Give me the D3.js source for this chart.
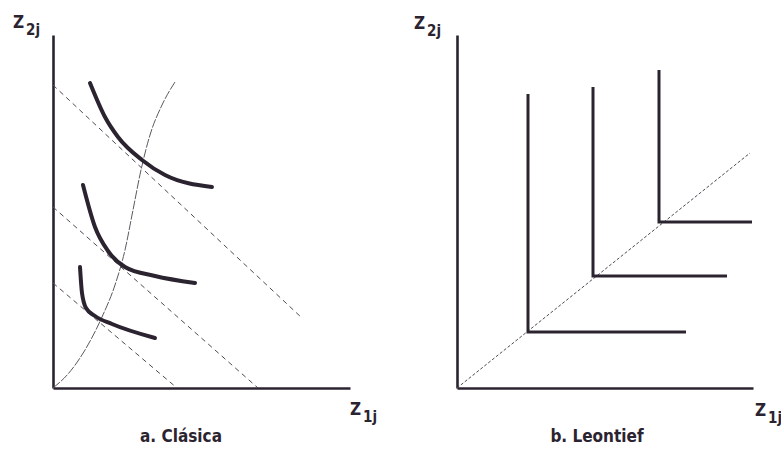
<!DOCTYPE html>
<html>
<head>
<meta charset="utf-8">
<script src="https://cdn.jsdelivr.net/npm/d3@7"></script>
<style>
  body { margin: 0; background: #fff; }
  svg { display: block; }
  .lbl { font-family: "Liberation Sans Narrow", "DejaVu Sans Condensed", "Liberation Sans", sans-serif; font-weight: bold; fill: #2b2430; }
</style>
</head>
<body>
<div id="chart"></div>
<script>
// panel a: values are in the panel's own units, measured from the origin
var budgetLines = [
    [[0, 303], [249, 70]],
    [[0, 181], [205, 0]],
    [[0, 105], [124, 0]]
];
var expansionPath = [[0, 0], [15, 14], [32, 38], [49, 71], [62, 103], [72, 138],
    [80, 178], [88, 218], [97, 253], [109, 283], [122, 306]];
var isoquants = [
    [[37, 305], [52, 271], [65, 251], [89, 228], [112, 213], [159, 201]],
    [[30, 203], [42, 161], [55, 137], [72, 121], [102, 112], [142, 105]],
    [[27, 121], [29, 95], [33, 80], [42, 72], [59, 64], [102, 50]]
];

// panel b: corner points of the Leontief isoquants, with top and right ends
var corners = [[71, 56], [136, 112], [202, 166]];
var topEnds = [294, 301, 318];
var rightEnds = [229, 270, 295];
var rayEnd = [293, 235];

var titles = ["a. Clásica", "b. Leontief"];

var width = 781, height = 457;
var ink = "#2b2430";

var svg = d3.select("#chart")
    .append("svg")
    .attr("width", width)
    .attr("height", height);

// scales for each panel
var xa = d3.scaleLinear().domain([0, 297]).range([53, 350]);
var ya = d3.scaleLinear().domain([0, 353]).range([388, 35]);
var xb = d3.scaleLinear().domain([0, 296]).range([457, 753]);
var yb = d3.scaleLinear().domain([0, 353]).range([388, 35]);

function drawAxes(x, y) {
    svg.append("g")
        .attr("transform", "translate(0," + y(0) + ")")
        .call(d3.axisBottom(x).tickValues([]).tickSizeOuter(0));
    svg.append("g")
        .attr("transform", "translate(" + x(0) + ",0)")
        .call(d3.axisLeft(y).tickValues([]).tickSizeOuter(0));
    svg.selectAll(".domain")
        .attr("stroke", ink)
        .attr("stroke-width", 2.6);
}

drawAxes(xa, ya);
drawAxes(xb, yb);

// ---- panel a ----
var lineA = d3.line()
    .x(function (d) { return xa(d[0]); })
    .y(function (d) { return ya(d[1]); });

var curveA = d3.line()
    .x(function (d) { return xa(d[0]); })
    .y(function (d) { return ya(d[1]); })
    .curve(d3.curveMonotoneX);

svg.selectAll(".budget")
    .data(budgetLines)
    .enter().append("path")
    .attr("class", "budget")
    .attr("fill", "none")
    .attr("stroke", "#4f4a55")
    .attr("stroke-width", 1)
    .attr("stroke-dasharray", "5,4")
    .attr("d", lineA);

svg.append("path")
    .datum(expansionPath)
    .attr("fill", "none")
    .attr("stroke", "#5d5862")
    .attr("stroke-width", 1)
    .attr("stroke-dasharray", "9,1.5")
    .attr("d", curveA);

svg.selectAll(".iso")
    .data(isoquants)
    .enter().append("path")
    .attr("class", "iso")
    .attr("fill", "none")
    .attr("stroke", ink)
    .attr("stroke-width", 4)
    .attr("stroke-linecap", "round")
    .attr("d", curveA);

// ---- panel b ----
svg.append("line")
    .attr("x1", xb(0)).attr("y1", yb(0))
    .attr("x2", xb(rayEnd[0])).attr("y2", yb(rayEnd[1]))
    .attr("stroke", "#4f4a55")
    .attr("stroke-width", 1)
    .attr("stroke-dasharray", "3,2");

var lineB = d3.line()
    .x(function (d) { return xb(d[0]); })
    .y(function (d) { return yb(d[1]); });

svg.selectAll(".leo")
    .data(corners)
    .enter().append("path")
    .attr("class", "leo")
    .attr("fill", "none")
    .attr("stroke", ink)
    .attr("stroke-width", 3)
    .attr("d", function (d, i) {
        return lineB([[d[0], topEnds[i]], d, [rightEnds[i], d[1]]]);
    });

// ---- labels ----
function axisLabel(px, py, sub) {
    var t = svg.append("text")
        .attr("class", "lbl")
        .attr("x", px)
        .attr("y", py)
        .style("font-size", "17px");
    t.append("tspan").text("Z");
    t.append("tspan")
        .attr("dx", 2)
        .attr("dy", 7)
        .style("font-size", "15px")
        .text(sub);
}

axisLabel(13, 28, "2j");
axisLabel(350, 415, "1j");
axisLabel(414, 29, "2j");
axisLabel(755, 416, "1j");

svg.selectAll(".title")
    .data(titles)
    .enter().append("text")
    .attr("class", "lbl title")
    .attr("x", function (d, i) { return i === 0 ? 181 : 597; })
    .attr("y", 442)
    .attr("text-anchor", "middle")
    .style("font-size", "17px")
    .text(function (d) { return d; });
</script>
</body>
</html>
